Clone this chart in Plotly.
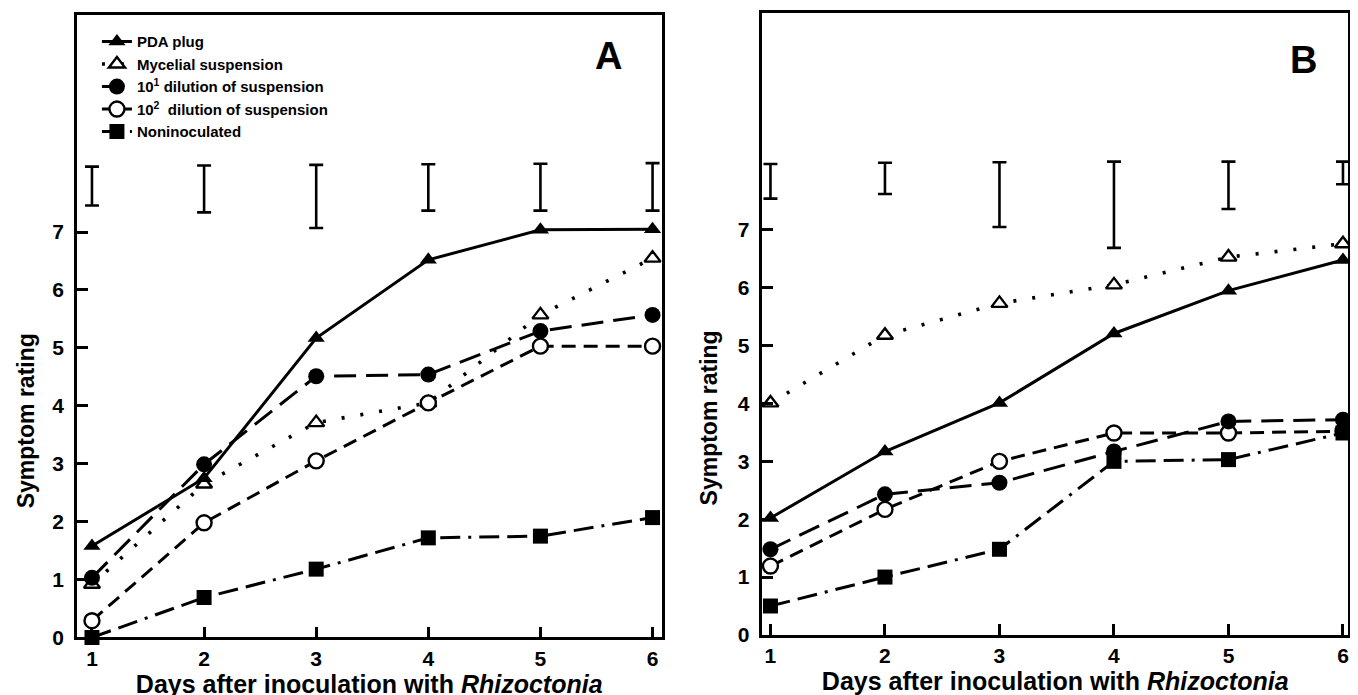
import plotly.graph_objects as go

# ---------------- data ----------------
days = [1, 2, 3, 4, 5, 6]
series_names = ["PDA plug", "Mycelial suspension",
                "10<sup>1</sup> dilution of suspension",
                "10<sup>2</sup>  dilution of suspension",
                "Noninoculated"]

# Panel A
A_pda = [1.58, 2.75, 5.17, 6.52, 7.04, 7.05]
A_myc = [0.92, 2.65, 3.71, 4.05, 5.57, 6.55]
A_d1 = [1.03, 2.99, 4.51, 4.54, 5.29, 5.57]
A_d2 = [0.29, 1.98, 3.05, 4.05, 5.03, 5.03]
A_non = [0.00, 0.69, 1.18, 1.72, 1.75, 2.07]
A_lsd = [0.67, 0.81, 1.09, 0.80, 0.81, 0.82]
A_lsd_top = [8.13, 8.15, 8.16, 8.17, 8.18, 8.19]

# Panel B
B_pda = [2.02, 3.17, 4.01, 5.21, 5.95, 6.48]
B_myc = [4.01, 5.18, 5.73, 6.05, 6.53, 6.76]
B_d1 = [1.48, 2.43, 2.63, 3.17, 3.69, 3.72]
B_d2 = [1.19, 2.17, 3.00, 3.49, 3.49, 3.52]
B_non = [0.50, 1.00, 1.48, 3.00, 3.03, 3.49]
B_lsd = [0.60, 0.54, 1.12, 1.49, 0.82, 0.39]
B_lsd_top = [8.14, 8.16, 8.17, 8.18, 8.18, 8.18]

y_ticks = [0, 1, 2, 3, 4, 5, 6, 7]

# ---------------- styles ----------------
FONT = "Liberation Sans, Arial, Helvetica, sans-serif"
LW = 3
styles = {
    "pda": dict(line=dict(color="black", width=LW, dash="solid"),
                marker=dict(symbol="triangle-up", size=15, color="black")),
    "myc": dict(line=dict(color="black", width=3.6, dash="3px,16px"),
                marker=dict(symbol="triangle-up", size=14, color="white",
                            line=dict(color="black", width=2.4))),
    "d1": dict(line=dict(color="black", width=LW, dash="22px,10px"),
               marker=dict(symbol="circle", size=16, color="black")),
    "d2": dict(line=dict(color="black", width=LW, dash="14px,8px"),
               marker=dict(symbol="circle", size=15, color="white",
                           line=dict(color="black", width=2.4))),
    "non": dict(line=dict(color="black", width=LW,
                          dash="20px,8px,20px,8px,3px,8px"),
                marker=dict(symbol="square", size=15, color="black")),
}
ranks = {"pda": 1, "myc": 2, "d1": 3, "d2": 4, "non": 5}
names = {"pda": series_names[0], "myc": series_names[1], "d1": series_names[2],
         "d2": series_names[3], "non": series_names[4]}
draw_order = ["myc", "d2", "pda", "d1", "non"]

fig = go.Figure()

panels = [
    ("x", "y", {"pda": A_pda, "myc": A_myc, "d1": A_d1, "d2": A_d2, "non": A_non},
     A_lsd, A_lsd_top, True),
    ("x2", "y2", {"pda": B_pda, "myc": B_myc, "d1": B_d1, "d2": B_d2, "non": B_non},
     B_lsd, B_lsd_top, False),
]

for xa, ya, data, lsd, lsd_top, show_leg in panels:
    # LSD bars
    fig.add_trace(go.Scatter(
        x=days, y=[t - l / 2 for t, l in zip(lsd_top, lsd)],
        mode="markers", marker=dict(size=1, color="rgba(0,0,0,0)"),
        error_y=dict(type="data", array=[l / 2 for l in lsd], symmetric=True,
                     color="black", thickness=2.6, width=7),
        xaxis=xa, yaxis=ya, showlegend=False, hoverinfo="skip"))
    for key in draw_order:
        fig.add_trace(go.Scatter(
            x=days, y=data[key], mode="lines+markers", name=names[key],
            legendrank=ranks[key], showlegend=show_leg,
            line=styles[key]["line"], marker=styles[key]["marker"],
            cliponaxis=False, xaxis=xa, yaxis=ya))

axis_common = dict(showline=True, linecolor="black", linewidth=2.8, mirror=True,
                   ticks="inside", ticklen=11, tickwidth=2.6, tickcolor="black",
                   showgrid=False, zeroline=False,
                   tickfont=dict(family=FONT, size=21, color="black", weight="bold"))

W, H = 1358, 695
xtitle = "Days after inoculation with <i>Rhizoctonia</i>"
title_font = dict(family=FONT, size=25, color="black", weight="bold")
fig.update_layout(
    width=W, height=H, margin=dict(l=0, r=0, t=0, b=0),
    paper_bgcolor="white", plot_bgcolor="white",
    xaxis=dict(axis_common, domain=[69 / W, 654 / W], range=[0.866, 6.08],
               tickvals=days, anchor="y", ticklabelstandoff=0,
               title=dict(text=xtitle, standoff=4, font=title_font)),
    yaxis=dict(axis_common, domain=[1 - 639.6 / H, 1 - 7 / H], range=[0, 10.75],
               tickvals=y_ticks, anchor="x", ticklabelstandoff=6),
    xaxis2=dict(axis_common, domain=[755 / W, 1341 / W], range=[0.93, 6.044],
                tickvals=days, anchor="y2", ticklabelstandoff=0,
                title=dict(text=xtitle, standoff=4, font=title_font)),
    yaxis2=dict(axis_common, domain=[1 - 637 / H, 1 - 5 / H], range=[0, 10.75],
                tickvals=y_ticks, anchor="x2", ticklabelstandoff=6),
    legend=dict(x=89 / W, y=1 - 17.6 / H, xanchor="left", yanchor="top",
                bgcolor="rgba(0,0,0,0)", itemwidth=30, tracegroupgap=0,
                font=dict(family=FONT, size=15, color="black", weight="bold")),
    showlegend=True,
    annotations=[
        dict(text="A", x=601 / W, y=1 - 48.5 / H, xref="paper", yref="paper",
             xanchor="center", yanchor="middle", showarrow=False,
             font=dict(family=FONT, size=38, color="black", weight="bold")),
        dict(text="B", x=1296 / W, y=1 - 52.6 / H, xref="paper", yref="paper",
             xanchor="center", yanchor="middle", showarrow=False,
             font=dict(family=FONT, size=38, color="black", weight="bold")),
        dict(text="Symptom rating", x=18 / W, y=3.75, xref="paper", yref="y",
             xanchor="center", yanchor="middle", textangle=-90, showarrow=False,
             font=dict(family=FONT, size=23, color="black", weight="bold")),
        dict(text="Symptom rating", x=701 / W, y=3.75, xref="paper", yref="y2",
             xanchor="center", yanchor="middle", textangle=-90, showarrow=False,
             font=dict(family=FONT, size=23, color="black", weight="bold")),
    ],
)

fig.write_html("out.html")
